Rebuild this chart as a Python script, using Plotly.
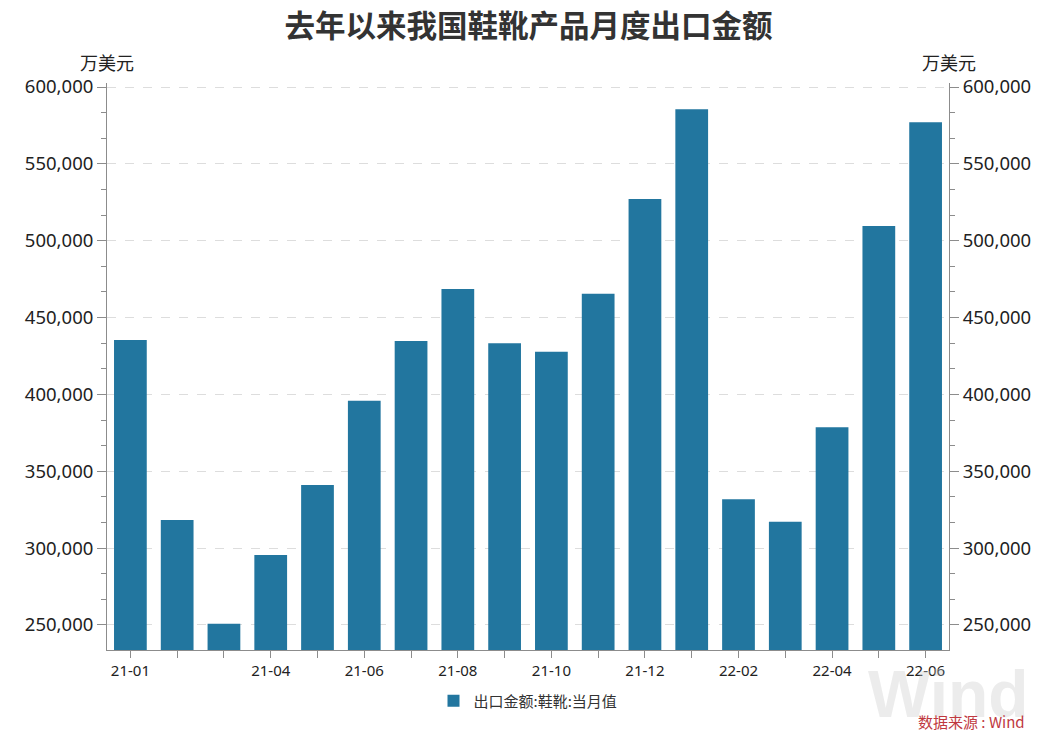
import plotly.graph_objects as go

months = ["21-01", "21-02", "21-03", "21-04", "21-05", "21-06", "21-07", "21-08", "21-09",
          "21-10", "21-11", "21-12", "22-01", "22-02", "22-03", "22-04", "22-05", "22-06"]
values = [435400, 318300, 250700, 295500, 341000, 395900, 434800, 468600, 433300,
          427800, 465500, 527100, 585500, 331800, 317200, 378600, 509600, 577000]
shown_labels = ["21-01", "21-04", "21-06", "21-08", "21-10", "21-12", "22-02", "22-04", "22-06"]
y_ticks = [250000, 300000, 350000, 400000, 450000, 500000, 550000, 600000]
y_range = [233700, 602600]

series_name = "出口金额:鞋靴:当月值"
title_text = "去年以来我国鞋靴产品月度出口金额"
unit_text = "万美元"
source_text = "数据来源 : Wind"
watermark_text = "Wind"

BAR = "#22769f"
AXIS = "#8c8c8c"
TXT = "#222222"
CJK = "Noto Sans CJK SC"
NUM = "Noto Sans"

fig = go.Figure()
fig.add_trace(go.Bar(x=months, y=values, name=series_name, marker=dict(color=BAR, line=dict(width=0)),
                     showlegend=True))
# invisible helper trace so the right axis is drawn
fig.add_trace(go.Scatter(x=months, y=values, yaxis="y2", mode="lines", line=dict(width=0),
                         opacity=0, showlegend=False, hoverinfo="skip"))

ticktext = [m if m in shown_labels else "" for m in months]

yaxis_common = dict(
    range=y_range, tickvals=y_ticks, tickformat=",d",
    showline=True, linecolor=AXIS, linewidth=1,
    ticks="outside", ticklen=9, tickcolor=AXIS, tickwidth=1,
    tickfont=dict(family=NUM, size=18.5, color=TXT),
    minor=dict(dtick=50000 / 3, tick0=250000, ticks="outside", ticklen=5, tickcolor=AXIS, showgrid=False),
    zeroline=False,
)

fig.update_layout(
    width=1057, height=734,
    margin=dict(l=107, r=108, t=83, b=84),
    paper_bgcolor="white", plot_bgcolor="white",
    bargap=0.3,
    title=dict(text=title_text, x=0.5, xanchor="center", y=1 - 26 / 734, yanchor="middle",
               font=dict(family=CJK, size=30.5, color="#333333", weight="bold")),
    xaxis=dict(
        type="category", tickvals=months, ticktext=ticktext,
        showline=True, linecolor=AXIS, linewidth=1,
        ticks="outside", ticklen=7, tickcolor=AXIS,
        tickfont=dict(family=NUM, size=15, color=TXT),
        showgrid=False, zeroline=False,
    ),
    yaxis=dict(**yaxis_common, showgrid=True, gridcolor="#dddddd", griddash="dash", gridwidth=1),
    yaxis2=dict(**yaxis_common, overlaying="y", side="right", showgrid=False),
    legend=dict(orientation="h", x=0.5, xanchor="center", y=-0.09, yanchor="middle",
                font=dict(family=CJK, size=15, color="#333333"), itemwidth=30),
)

annotations = [
    dict(text=watermark_text, xref="paper", yref="paper", x=(948 - 107) / 842, y=(650 - 733) / 567,
         xanchor="center", yanchor="bottom", showarrow=False,
         font=dict(family="Liberation Sans", size=66, color="rgba(200,200,200,0.35)", weight="bold")),
    dict(text=unit_text, xref="paper", yref="paper", x=0, y=(650 - 62) / 567, xanchor="center",
         yanchor="middle", showarrow=False, font=dict(family=CJK, size=18, color=TXT)),
    dict(text=unit_text, xref="paper", yref="paper", x=1, y=(650 - 62) / 567, xanchor="center",
         yanchor="middle", showarrow=False, font=dict(family=CJK, size=18, color=TXT)),
    dict(text=source_text, xref="paper", yref="paper", x=(1027 - 107) / 842, y=(650 - 721) / 567,
         xanchor="right", yanchor="middle", showarrow=False,
         font=dict(family=CJK, size=15, color="#c0393f")),
]
fig.update_layout(annotations=annotations)

fig.write_html("out.html")
